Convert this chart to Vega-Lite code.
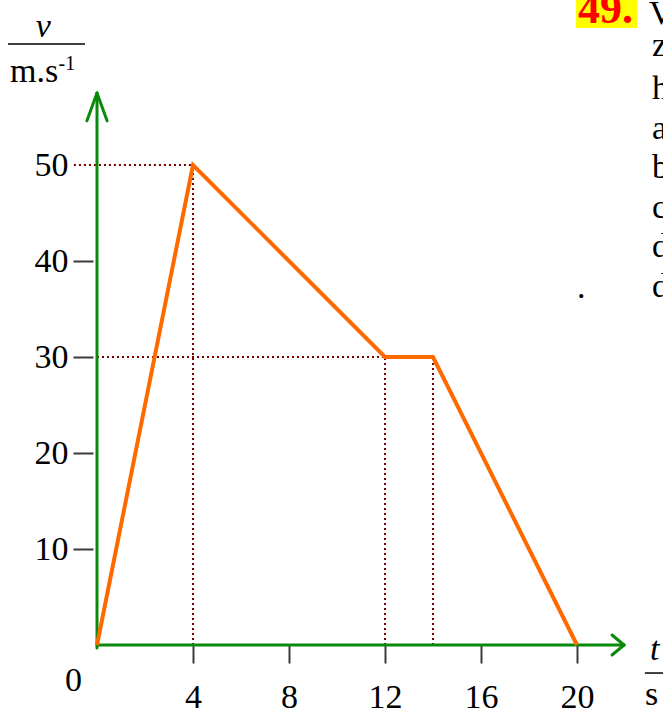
{
  "$schema": "https://vega.github.io/schema/vega-lite/v6.json",
  "width": 528,
  "height": 552,
  "autosize": {"type": "none"},
  "padding": {"left": 97, "top": 93, "right": 38, "bottom": 66},
  "background": "white",
  "config": {
    "view": {"stroke": null},
    "font": "Liberation Serif",
    "text": {"font": "Liberation Serif", "fontSize": 34, "color": "black", "baseline": "alphabetic", "align": "left"}
  },
  "datasets": {
    "speed": [
      {"t": 0, "v": 0},
      {"t": 4, "v": 50},
      {"t": 12, "v": 30},
      {"t": 14, "v": 30},
      {"t": 20, "v": 0}
    ],
    "guides": [
      {"x": -0.96, "y": 50, "x2": 4, "y2": 50},
      {"x": 0, "y": 30, "x2": 12, "y2": 30},
      {"x": 4, "y": 0, "x2": 4, "y2": 50},
      {"x": 12, "y": 0, "x2": 12, "y2": 30},
      {"x": 14, "y": 0, "x2": 14, "y2": 30}
    ],
    "axisLines": [
      {"x": 0, "y": -0.3, "x2": 0, "y2": 57.5},
      {"x": 0, "y": 0, "x2": 21.96, "y2": 0},
      {"x": -0.42, "y": 54.6, "x2": 0, "y2": 57.5},
      {"x": 0.42, "y": 54.6, "x2": 0, "y2": 57.5},
      {"x": 21.46, "y": 1.04, "x2": 21.96, "y2": 0},
      {"x": 21.46, "y": -1.04, "x2": 21.96, "y2": 0}
    ],
    "fractionBars": [
      {"x": -3.71, "y": 62.6, "x2": -0.5, "y2": 62.6},
      {"x": 22.83, "y": -2.92, "x2": 23.6, "y2": -2.92}
    ],
    "plainText": [
      {"x": -3.625, "y": 58.65, "label": "m.s"},
      {"x": 22.83, "y": -6.25, "label": "s"},
      {"x": 23.0, "y": 64.69, "label": "V"},
      {"x": 23.125, "y": 61.35, "label": "z"},
      {"x": 23.125, "y": 56.9, "label": "h"},
      {"x": 23.125, "y": 52.7, "label": "a"},
      {"x": 23.125, "y": 48.65, "label": "b"},
      {"x": 23.125, "y": 44.5, "label": "c"},
      {"x": 23.125, "y": 40.4, "label": "d"},
      {"x": 23.125, "y": 36.25, "label": "d"},
      {"x": 20.0, "y": 36.15, "label": "."}
    ],
    "origin": [{"x": -0.98, "y": -4.79, "label": "0"}],
    "italicText": [
      {"x": -2.55, "y": 63.33, "label": "v"},
      {"x": 23.04, "y": -1.56, "label": "t"}
    ],
    "superscript": [{"x": -1.6, "y": 59.9, "label": "-1"}],
    "badge": [{"x": 19.96, "x2": 22.5, "y": 67.19, "y2": 64.27, "label": "49.", "lx": 20.04, "ly": 64.8}]
  },
  "layer": [
    {
      "data": {"name": "guides"},
      "mark": {"type": "rule", "color": "#7a0000", "strokeWidth": 2, "strokeDash": [2, 3]},
      "encoding": {
        "x": {
          "field": "x", "type": "quantitative", "title": null,
          "scale": {"domain": [0, 22], "nice": false, "zero": false},
          "axis": {
            "orient": "bottom", "values": [4, 8, 12, 16, 20], "domain": false, "grid": false,
            "tickSize": 18, "tickWidth": 2, "tickColor": "#3a3a3a",
            "labelFont": "Liberation Serif", "labelFontSize": 34, "labelColor": "black",
            "labelBaseline": "alphabetic", "labelPadding": 44, "labelFontWeight": "normal"
          }
        },
        "y": {
          "field": "y", "type": "quantitative", "title": null,
          "scale": {"domain": [0, 57.5], "nice": false, "zero": false},
          "axis": {
            "orient": "left", "values": [10, 20, 30, 40, 50], "domain": false, "grid": false,
            "offset": 4, "tickSize": 20, "tickWidth": 2,
            "tickColor": {"condition": {"test": "datum.value === 50", "value": "rgba(0,0,0,0)"}, "value": "#3a3a3a"},
            "labelFont": "Liberation Serif", "labelFontSize": 34, "labelColor": "black",
            "labelPadding": 5, "labelFontWeight": "normal"
          }
        },
        "x2": {"field": "x2"},
        "y2": {"field": "y2"}
      }
    },
    {
      "data": {"name": "axisLines"},
      "mark": {"type": "rule", "color": "#0a8a0a", "strokeWidth": 3, "strokeCap": "round"},
      "encoding": {
        "x": {"field": "x", "type": "quantitative", "title": null},
        "y": {"field": "y", "type": "quantitative", "title": null},
        "x2": {"field": "x2"},
        "y2": {"field": "y2"}
      }
    },
    {
      "data": {"name": "fractionBars"},
      "mark": {"type": "rule", "color": "black", "strokeWidth": 1.5},
      "encoding": {
        "x": {"field": "x", "type": "quantitative", "title": null},
        "y": {"field": "y", "type": "quantitative", "title": null},
        "x2": {"field": "x2"},
        "y2": {"field": "y2"}
      }
    },
    {
      "data": {"name": "speed"},
      "mark": {"type": "line", "color": "#ff6a00", "strokeWidth": 4, "strokeJoin": "miter"},
      "encoding": {
        "x": {"field": "t", "type": "quantitative", "title": null},
        "y": {"field": "v", "type": "quantitative", "title": null}
      }
    },
    {
      "data": {"name": "plainText"},
      "mark": {"type": "text", "font": "Liberation Serif"},
      "encoding": {
        "x": {"field": "x", "type": "quantitative", "title": null},
        "y": {"field": "y", "type": "quantitative", "title": null},
        "text": {"field": "label"}
      }
    },
    {
      "data": {"name": "origin"},
      "mark": {"type": "text", "align": "center", "font": "Liberation Serif"},
      "encoding": {
        "x": {"field": "x", "type": "quantitative", "title": null},
        "y": {"field": "y", "type": "quantitative", "title": null},
        "text": {"field": "label"}
      }
    },
    {
      "data": {"name": "italicText"},
      "mark": {"type": "text", "fontStyle": "italic", "font": "Liberation Serif"},
      "encoding": {
        "x": {"field": "x", "type": "quantitative", "title": null},
        "y": {"field": "y", "type": "quantitative", "title": null},
        "text": {"field": "label"}
      }
    },
    {
      "data": {"name": "superscript"},
      "mark": {"type": "text", "fontSize": 20, "font": "Liberation Serif"},
      "encoding": {
        "x": {"field": "x", "type": "quantitative", "title": null},
        "y": {"field": "y", "type": "quantitative", "title": null},
        "text": {"field": "label"}
      }
    },
    {
      "data": {"name": "badge"},
      "mark": {"type": "rect", "color": "#ffff00"},
      "encoding": {
        "x": {"field": "x", "type": "quantitative", "title": null},
        "x2": {"field": "x2"},
        "y": {"field": "y", "type": "quantitative", "title": null},
        "y2": {"field": "y2"}
      }
    },
    {
      "data": {"name": "badge"},
      "mark": {"type": "text", "color": "#ff0000", "fontWeight": "bold", "fontSize": 44, "font": "Liberation Serif"},
      "encoding": {
        "x": {"field": "lx", "type": "quantitative", "title": null},
        "y": {"field": "ly", "type": "quantitative", "title": null},
        "text": {"field": "label"}
      }
    }
  ]
}
